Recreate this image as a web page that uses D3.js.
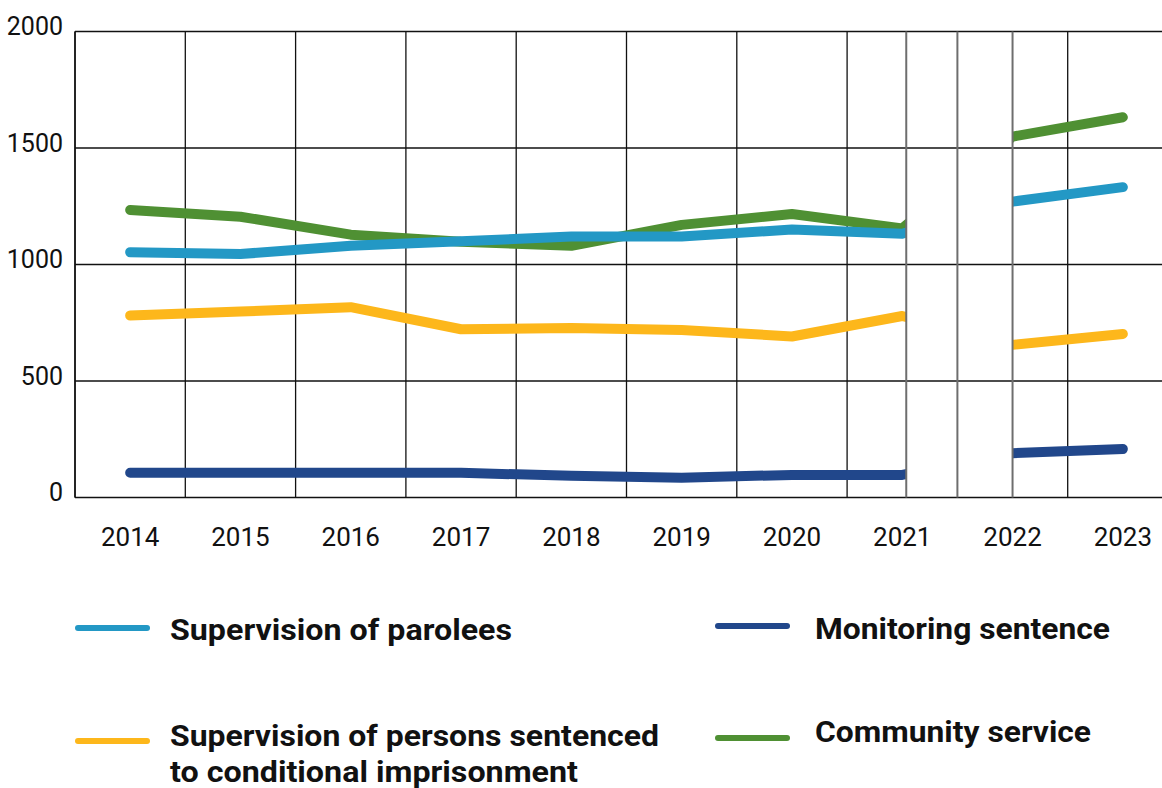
<!DOCTYPE html>
<html>
<head>
<meta charset="utf-8">
<script src="https://cdn.jsdelivr.net/npm/d3@7"></script>
<style>
  body { margin: 0; background: #fff; }
  text { font-family: Roboto, "Noto Sans", sans-serif; }
</style>
</head>
<body>
<svg width="1162" height="788"></svg>
<script>
// data
const years = ['2014', '2015', '2016', '2017', '2018', '2019', '2020', '2021', '2022', '2023'];
const parolees = [1053, 1045, 1080, 1100, 1120, 1120, 1150, 1132, 1270, 1332];
const conditional = [781, 798, 817, 722, 727, 719, 691, 779, 655, 702];
const monitoring = [106, 106, 106, 106, 93, 85, 97, 97, 190, 208];
const community = [1234, 1205, 1128, 1098, 1080, 1170, 1217, 1155, 1549, 1632];
const yTicks = [0, 500, 1000, 1500, 2000];
const seriesNames = ['Supervision of parolees', 'Supervision of persons sentenced|to conditional imprisonment', 'Monitoring sentence', 'Community service'];

const colors = {
    parolees: '#2398c5',
    conditional: '#fdb71b',
    monitoring: '#21478b',
    community: '#4f9033'
};

const svg = d3.select('svg');
const width = +svg.attr('width');

const x = d3.scaleBand().domain(years).range([75, 1178]);
const y = d3.scaleLinear().domain([0, 2000]).range([497.5, 31.5]);
const cx = (yr) => x(yr) + x.bandwidth() / 2;

// vertical grid lines at band edges
svg.append('g')
    .selectAll('line')
    .data(years)
    .join('line')
    .attr('x1', d => x(d)).attr('x2', d => x(d))
    .attr('y1', y(2000)).attr('y2', y(0))
    .attr('stroke', '#111')
    .attr('stroke-width', 1.3);

// data lines
const line = d3.line()
    .x((d, i) => cx(years[i]))
    .y(d => y(d));

const series = [
    {key: 'community', values: community},
    {key: 'parolees', values: parolees},
    {key: 'conditional', values: conditional},
    {key: 'monitoring', values: monitoring}
];

svg.append('g')
    .selectAll('path')
    .data(series)
    .join('path')
    .attr('d', d => line(d.values))
    .attr('fill', 'none')
    .attr('stroke', d => colors[d.key])
    .attr('stroke-width', 10)
    .attr('stroke-linecap', 'round')
    .attr('stroke-linejoin', 'round');

// the gap between 2021 and 2022
const gapLeft = cx('2021') + 4;
const gapRight = cx('2022');
svg.append('rect')
    .attr('x', gapLeft)
    .attr('y', y(2000))
    .attr('width', gapRight - gapLeft)
    .attr('height', y(0) - y(2000))
    .attr('fill', '#fff');

// horizontal grid lines
svg.append('g')
    .selectAll('line')
    .data(yTicks)
    .join('line')
    .attr('x1', 75).attr('x2', width)
    .attr('y1', d => y(d)).attr('y2', d => y(d))
    .attr('stroke', '#111')
    .attr('stroke-width', 1.5);

// grey lines of the gap
svg.append('g')
    .selectAll('line')
    .data([gapLeft, x('2022'), gapRight])
    .join('line')
    .attr('x1', d => d).attr('x2', d => d)
    .attr('y1', y(2000)).attr('y2', y(0))
    .attr('stroke', '#6e6e6e')
    .attr('stroke-width', 2);

// left axis line
svg.append('line')
    .attr('x1', 75).attr('x2', 75)
    .attr('y1', y(2000)).attr('y2', y(0))
    .attr('stroke', '#111')
    .attr('stroke-width', 1.5);

// axes
const xAxis = svg.append('g')
    .attr('transform', `translate(0,${y(0)})`)
    .call(d3.axisBottom(x).tickSize(0).tickPadding(30));
xAxis.select('.domain').remove();
xAxis.selectAll('text')
    .style('font-size', '26px')
    .attr('fill', '#111');

const yAxis = svg.append('g')
    .attr('transform', 'translate(75,0)')
    .call(d3.axisLeft(y).tickValues(yTicks).tickFormat(d3.format('d')).tickSize(0).tickPadding(12));
yAxis.select('.domain').remove();
yAxis.selectAll('text')
    .style('font-size', '25px')
    .attr('dy', '0.12em')
    .attr('fill', '#111');

// legend
const legendLayout = [
    {key: 'parolees', sx: 78, sy: 628, tx: 170, ty: 640, w: [342]},
    {key: 'conditional', sx: 78, sy: 741, tx: 170, ty: 746, w: [489, 408]},
    {key: 'monitoring', sx: 718, sy: 626, tx: 815, ty: 639, w: [295]},
    {key: 'community', sx: 718, sy: 738, tx: 815, ty: 742, w: [276]}
];

const legend = svg.append('g')
    .selectAll('g')
    .data(legendLayout)
    .join('g');

legend.append('line')
    .attr('x1', d => d.sx).attr('x2', d => d.sx + 69)
    .attr('y1', d => d.sy).attr('y2', d => d.sy)
    .attr('stroke', d => colors[d.key])
    .attr('stroke-width', 6)
    .attr('stroke-linecap', 'round');

legend.each(function(d, i) {
    const lines = seriesNames[i].split('|');
    const t = d3.select(this).append('text')
        .attr('x', d.tx)
        .attr('y', d.ty)
        .style('font-size', '30px')
        .style('font-weight', 700)
        .attr('fill', '#111');
    lines.forEach((s, j) => {
        t.append('tspan')
            .attr('x', d.tx)
            .attr('dy', j === 0 ? 0 : 36)
            .attr('textLength', d.w[j])
            .attr('lengthAdjust', 'spacingAndGlyphs')
            .text(s);
    });
});
</script>
</body>
</html>
